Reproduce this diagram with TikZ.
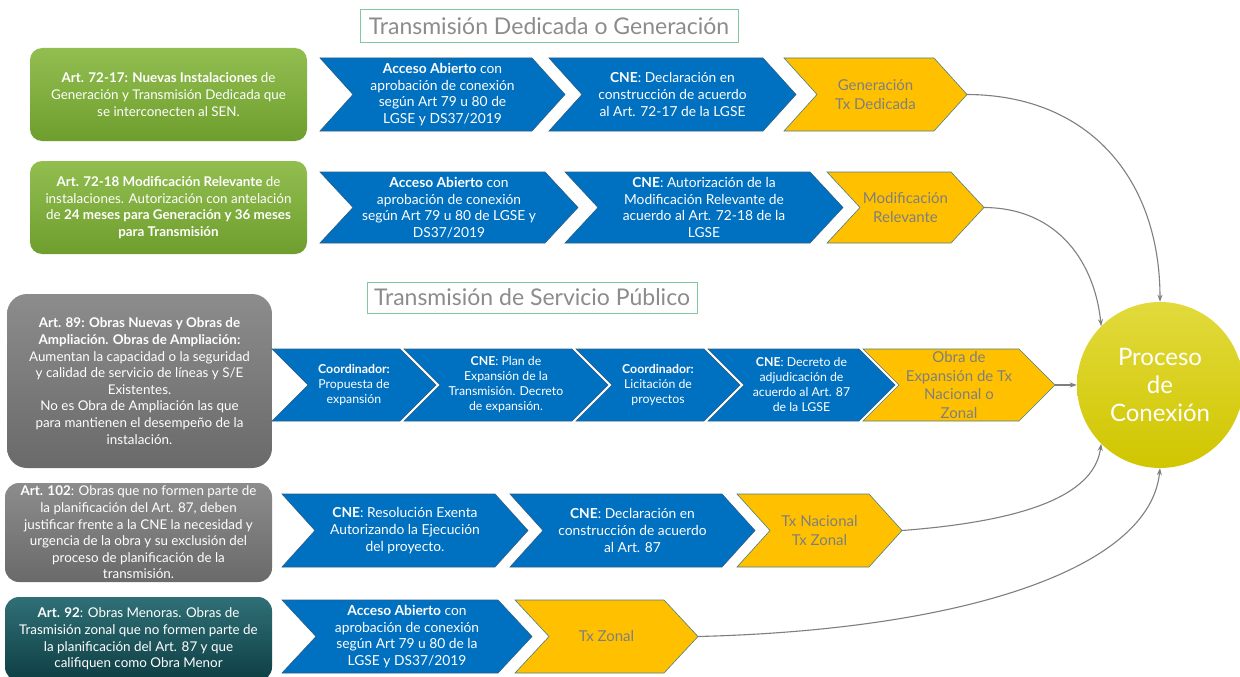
\documentclass[tikz,border=0pt]{standalone}
\usepackage{fontspec}
\setmainfont{Lato}
\usetikzlibrary{arrows.meta}
\definecolor{cblue}{HTML}{0070C0}
\definecolor{cblueedge}{HTML}{2E5E86}
\definecolor{cyel}{HTML}{FFC000}
\definecolor{cyeledge}{HTML}{4F7F80}
\definecolor{cytext}{HTML}{7F7F7F}
\definecolor{ctitle}{HTML}{8C8C8C}
\definecolor{ctitleedge}{HTML}{7FC8A0}
\definecolor{cgreentop}{HTML}{92BE50}
\definecolor{cgreenbot}{HTML}{6E9E2E}
\definecolor{cgraytop}{HTML}{8C8C8C}
\definecolor{cgraybot}{HTML}{6A6A6A}
\definecolor{ctealtop}{HTML}{2F7076}
\definecolor{ctealbot}{HTML}{0E3E44}
\definecolor{ccircletop}{HTML}{E2DA3C}
\definecolor{ccirclebot}{HTML}{D0C600}
\definecolor{cconn}{HTML}{7F7F7F}
\newcommand\mychev[9]{%
  \path[#7] (#2,#4) -- ({#3-#6},#4) -- (#3,{(#4+#5)/2}) -- ({#3-#6},#5) -- (#2,#5) -- ({#2+#6},{(#4+#5)/2}) -- cycle;
  \node[#8] (#1) at ({(#2+#3)/2},{(#4+#5)/2}) {#9};
  \coordinate (#1-tip) at (#3,{(#4+#5)/2});
}
\begin{document}
\begin{tikzpicture}[x=1pt,y=-1pt,
  bluechev/.style={fill=cblue,draw=cblueedge,line width=0.6pt},
  yelchev/.style={fill=cyel,draw=cyeledge,line width=0.6pt},
  bluetxt/.style={text=white,align=center,inner sep=0pt,font=\fontsize{13.8}{16.6}\selectfont},
  bluetxtsmall/.style={text=white,align=center,inner sep=0pt,font=\fontsize{12.3}{15}\selectfont},
  yeltxt/.style={text=cytext,align=center,inner sep=0pt,font=\fontsize{15}{18.5}\selectfont},
  titlebox/.style={draw=ctitleedge,line width=1pt,text=ctitle,inner sep=0pt,font=\fontsize{23}{27}\selectfont},
  leftbox/.style={rounded corners=12pt,text=white,align=center,inner sep=0pt,font=\fontsize{13.4}{16.6}\selectfont},
  conn/.style={draw=cconn,line width=1.1pt,-{Stealth[length=7pt,width=5pt]}}
]
\useasboundingbox[fill=white] (0,0) rectangle (1240,677);

% titles
\node[titlebox,minimum width=378pt,minimum height=33pt] (t1) at (549,26.5) {Transmisión Dedicada o Generación};
\node[titlebox,minimum width=330pt,minimum height=31pt] (t2) at (532,297.5) {Transmisión de Servicio Público};

% left boxes
\node[leftbox,top color=cgreentop,bottom color=cgreenbot,minimum width=277pt,minimum height=93pt] (g1) at (168.5,94.5)
 {\textbf{Art. 72-17: Nuevas Instalaciones} de\\Generación y Transmisión Dedicada que\\se interconecten al SEN.};
\node[leftbox,top color=cgreentop,bottom color=cgreenbot,minimum width=277pt,minimum height=93pt] (g2) at (168.5,207.5)
 {\textbf{Art. 72-18 Modificación Relevante} de\\instalaciones. Autorización con antelación\\de \textbf{24 meses para Generación y 36 meses}\\\textbf{para Transmisión}};
\node[leftbox,rounded corners=20pt,top color=cgraytop,bottom color=cgraybot,minimum width=265pt,minimum height=174pt] (a89) at (139.5,381)
 {\textbf{Art. 89: Obras Nuevas y Obras de}\\\textbf{Ampliación. Obras de Ampliación:}\\Aumentan la capacidad o la seguridad\\y calidad de servicio de líneas y S/E\\Existentes.\\No es Obra de Ampliación las que\\para mantienen el desempeño de la\\instalación.};
\node[leftbox,rounded corners=14pt,top color=cgraytop,bottom color=cgraybot,minimum width=267pt,minimum height=99pt] (a102) at (138.5,532.5)
 {\textbf{Art. 102}: Obras que no formen parte de\\la planificación del Art. 87, deben\\justificar frente a la CNE la necesidad y\\urgencia de la obra y su exclusión del\\proceso de planificación de la\\transmisión.};
\node[leftbox,rounded corners=14pt,top color=ctealtop,bottom color=ctealbot,minimum width=267pt,minimum height=84pt] (a92) at (138.5,639)
 {\textbf{Art. 92}: Obras Menoras. Obras de\\Trasmisión zonal que no formen parte de\\la planificación del Art. 87 y que\\califiquen como Obra Menor};

% row 1
\mychev{r1a}{320}{565}{58}{131}{33}{bluechev}{bluetxt}{\textbf{Acceso Abierto} con\\aprobación de conexión\\según Art 79 u 80 de\\LGSE y DS37/2019}
\mychev{r1b}{549}{796}{58}{131}{33}{bluechev}{bluetxt}{\textbf{CNE}: Declaración en\\construcción de acuerdo\\al Art. 72-17 de la LGSE}
\mychev{r1c}{784}{967}{58}{131}{33}{yelchev}{yeltxt}{Generación\\Tx Dedicada}

% row 2
\mychev{r2a}{320}{578}{172}{243}{33}{bluechev}{bluetxt}{\textbf{Acceso Abierto} con\\aprobación de conexión\\según Art 79 u 80 de LGSE y\\DS37/2019}
\mychev{r2b}{565}{843}{172}{243}{33}{bluechev}{bluetxt}{\textbf{CNE}: Autorización de la\\Modificación Relevante de\\acuerdo al Art. 72-18 de la\\LGSE}
\mychev{r2c}{827}{984}{172}{243}{33}{yelchev}{yeltxt}{Modificación\\Relevante}

% row 3
\mychev{r3a}{272}{436}{349}{421}{36}{bluechev}{bluetxtsmall}{\textbf{Coordinador:}\\Propuesta de\\expansión}
\mychev{r3b}{404}{608}{349}{421}{36}{bluechev}{bluetxtsmall}{\textbf{CNE}: Plan de\\Expansión de la\\Transmisión. Decreto\\de expansión.}
\mychev{r3c}{576}{740}{349}{421}{36}{bluechev}{bluetxtsmall}{\textbf{Coordinador:}\\Licitación de\\proyectos}
\mychev{r3d}{708}{895}{349}{421}{36}{bluechev}{bluetxtsmall}{\textbf{CNE}: Decreto de\\adjudicación de\\acuerdo al Art. 87\\de la LGSE}
\mychev{r3e}{863}{1055}{349}{421}{36}{yelchev}{yeltxt}{Obra de\\Expansión de Tx\\Nacional o\\Zonal}

% row 4
\mychev{r4a}{282}{528}{494}{567}{33}{bluechev}{bluetxt}{\textbf{CNE}: Resolución Exenta\\Autorizando la Ejecución\\del proyecto.}
\mychev{r4b}{510}{755}{494}{567}{33}{bluechev}{bluetxt}{\textbf{CNE}: Declaración en\\construcción de acuerdo\\al Art. 87}
\mychev{r4c}{737}{902}{494}{567}{33}{yelchev}{yeltxt}{Tx Nacional\\Tx Zonal}

% row 5
\mychev{r5a}{282}{532}{600}{673}{34}{bluechev}{bluetxt}{\textbf{Acceso Abierto} con\\aprobación de conexión\\según Art 79 u 80 de la\\LGSE y DS37/2019}
\mychev{r5b}{515}{698}{600}{673}{34}{yelchev}{yeltxt}{Tx Zonal}

% circle
\node[circle,minimum size=166pt,inner sep=0pt,top color=ccircletop,bottom color=ccirclebot,
  text=white,align=center,font=\fontsize{24}{28}\selectfont] (pc) at (1160,385) {Proceso\\de\\Conexión};

% connectors
\draw[conn] (r1c-tip) .. controls (1090,95) and (1160,180) .. (pc.90);
\draw[conn] (r2c-tip) .. controls (1060,208) and (1095,265) .. (pc.135);
\draw[conn] (r3e-tip) -- (pc.180);
\draw[conn] (r4c-tip) .. controls (1040,520) and (1095,490) .. (pc.225);
\draw[conn] (r5b-tip) .. controls (960,630) and (1150,570) .. (pc.270);
\end{tikzpicture}
\end{document}
